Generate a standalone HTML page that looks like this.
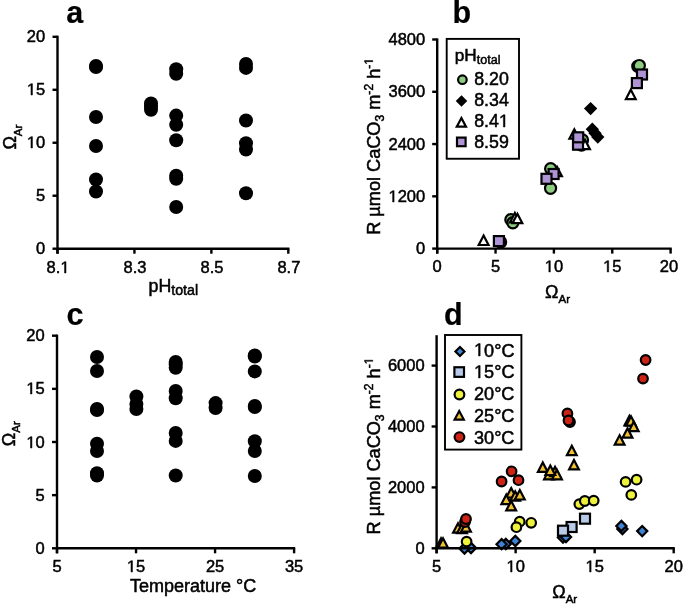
<!DOCTYPE html>
<html><head><meta charset="utf-8"><style>html,body{margin:0;padding:0;background:#fff;}svg{display:block;will-change:transform;}text{font-family:"Liberation Sans",sans-serif;fill:#000;stroke:#000;stroke-width:0.5px;}.one{fill-opacity:0;stroke-opacity:0;}</style></head><body>
<svg width="685" height="605" viewBox="0 0 685 605">
<rect width="685" height="605" fill="#fff"/>
<circle cx="96" cy="66" r="7.0" fill="#000"/>
<circle cx="96" cy="67" r="7.0" fill="#000"/>
<circle cx="96" cy="117" r="7.0" fill="#000"/>
<circle cx="96" cy="146" r="7.0" fill="#000"/>
<circle cx="96" cy="179.5" r="7.0" fill="#000"/>
<circle cx="96" cy="191.5" r="7.0" fill="#000"/>
<circle cx="151" cy="103.5" r="7.0" fill="#000"/>
<circle cx="151" cy="106.5" r="7.0" fill="#000"/>
<circle cx="151" cy="109.7" r="7.0" fill="#000"/>
<circle cx="176.2" cy="69.3" r="7.0" fill="#000"/>
<circle cx="176.2" cy="73.8" r="7.0" fill="#000"/>
<circle cx="176.2" cy="115.6" r="7.0" fill="#000"/>
<circle cx="176.2" cy="124.7" r="7.0" fill="#000"/>
<circle cx="176.2" cy="140.3" r="7.0" fill="#000"/>
<circle cx="176.2" cy="175.8" r="7.0" fill="#000"/>
<circle cx="176.2" cy="178.7" r="7.0" fill="#000"/>
<circle cx="176.2" cy="207" r="7.0" fill="#000"/>
<circle cx="246" cy="63.9" r="7.0" fill="#000"/>
<circle cx="246" cy="67.9" r="7.0" fill="#000"/>
<circle cx="246" cy="120.5" r="7.0" fill="#000"/>
<circle cx="246" cy="143.2" r="7.0" fill="#000"/>
<circle cx="246" cy="149.5" r="7.0" fill="#000"/>
<circle cx="246" cy="193.2" r="7.0" fill="#000"/>
<line x1="57.5" y1="35.699999999999996" x2="57.5" y2="253.7" stroke="#000" stroke-width="2.4"/>
<line x1="57.5" y1="248.7" x2="289.40000000000003" y2="248.7" stroke="#000" stroke-width="2.4"/>
<line x1="52.5" y1="248.7" x2="57.5" y2="248.7" stroke="#000" stroke-width="2.4"/>
<text x="45.2" y="254.29999999999998" font-size="16.5" text-anchor="end" font-weight="normal" >0</text>
<line x1="52.5" y1="195.725" x2="57.5" y2="195.725" stroke="#000" stroke-width="2.4"/>
<text x="45.2" y="201.325" font-size="16.5" text-anchor="end" font-weight="normal" >5</text>
<line x1="52.5" y1="142.75" x2="57.5" y2="142.75" stroke="#000" stroke-width="2.4"/>
<text x="45.2" y="148.35" font-size="16.5" text-anchor="end" font-weight="normal" ><tspan class="one">1</tspan>0</text>
<line x1="52.5" y1="89.775" x2="57.5" y2="89.775" stroke="#000" stroke-width="2.4"/>
<text x="45.2" y="95.375" font-size="16.5" text-anchor="end" font-weight="normal" ><tspan class="one">1</tspan>5</text>
<line x1="52.5" y1="36.79999999999998" x2="57.5" y2="36.79999999999998" stroke="#000" stroke-width="2.4"/>
<text x="45.2" y="42.399999999999984" font-size="16.5" text-anchor="end" font-weight="normal" >20</text>
<line x1="57.5" y1="248.7" x2="57.5" y2="253.7" stroke="#000" stroke-width="2.4"/>
<text x="58.1" y="272.8" font-size="16.5" text-anchor="middle" font-weight="normal" >8.<tspan class="one">1</tspan></text>
<line x1="134.43333333333374" y1="248.7" x2="134.43333333333374" y2="253.7" stroke="#000" stroke-width="2.4"/>
<text x="135.03333333333373" y="272.8" font-size="16.5" text-anchor="middle" font-weight="normal" >8.3</text>
<line x1="211.36666666666682" y1="248.7" x2="211.36666666666682" y2="253.7" stroke="#000" stroke-width="2.4"/>
<text x="211.9666666666668" y="272.8" font-size="16.5" text-anchor="middle" font-weight="normal" >8.5</text>
<line x1="288.29999999999984" y1="248.7" x2="288.29999999999984" y2="253.7" stroke="#000" stroke-width="2.4"/>
<text x="288.89999999999986" y="272.8" font-size="16.5" text-anchor="middle" font-weight="normal" >8.7</text>
<text x="66.2" y="22.5" font-size="30.5" text-anchor="start" font-weight="bold" style="stroke-width:0.2px">a</text>
<text x="148.5" y="292.0" font-size="17.8" text-anchor="start" font-weight="normal" >pH<tspan font-size="14.2" dy="3.4">total</tspan></text>
<text transform="translate(16.4,149.6) rotate(-90)" font-size="18">Ω<tspan font-size="11.5" dy="5.5">Ar</tspan></text>
<circle cx="500.6" cy="242" r="5.55" fill="#8dcd80" stroke="#000" stroke-width="2.2"/>
<circle cx="510.85" cy="219.65" r="5.55" fill="#8dcd80" stroke="#000" stroke-width="2.2"/>
<circle cx="512.85" cy="222.75" r="5.55" fill="#8dcd80" stroke="#000" stroke-width="2.2"/>
<circle cx="550.65" cy="168.75" r="5.55" fill="#8dcd80" stroke="#000" stroke-width="2.2"/>
<circle cx="550.55" cy="188.25" r="5.55" fill="#8dcd80" stroke="#000" stroke-width="2.2"/>
<circle cx="581.5" cy="145" r="5.55" fill="#8dcd80" stroke="#000" stroke-width="2.2"/>
<circle cx="582.5" cy="140" r="5.55" fill="#8dcd80" stroke="#000" stroke-width="2.2"/>
<circle cx="637.8" cy="66.3" r="5.55" fill="#8dcd80" stroke="#000" stroke-width="2.2"/>
<circle cx="639.35" cy="65.55" r="5.55" fill="#8dcd80" stroke="#000" stroke-width="2.2"/>
<path d="M590.6 103.5L595.7 108.6L590.6 113.69999999999999L585.5 108.6Z" fill="#000" stroke="#000" stroke-width="2.2" stroke-linejoin="miter"/>
<path d="M592.3 124.1L597.4 129.2L592.3 134.29999999999998L587.1999999999999 129.2Z" fill="#000" stroke="#000" stroke-width="2.2" stroke-linejoin="miter"/>
<path d="M595 128.1L600.1 133.2L595 138.29999999999998L589.9 133.2Z" fill="#000" stroke="#000" stroke-width="2.2" stroke-linejoin="miter"/>
<path d="M597.8 132.0L602.9 137.1L597.8 142.2L592.6999999999999 137.1Z" fill="#000" stroke="#000" stroke-width="2.2" stroke-linejoin="miter"/>
<path d="M483.6 235.60000000000002L488.5 245.0L478.70000000000005 245.0Z" fill="#fff" stroke="#000" stroke-width="2.2" stroke-linejoin="miter"/>
<path d="M514.9 213.0L519.8 222.39999999999998L510.0 222.39999999999998Z" fill="#fff" stroke="#000" stroke-width="2.2" stroke-linejoin="miter"/>
<path d="M517.4 213.8L522.3 223.2L512.5 223.2Z" fill="#fff" stroke="#000" stroke-width="2.2" stroke-linejoin="miter"/>
<path d="M557 166.8L561.9 176.2L552.1 176.2Z" fill="#fff" stroke="#000" stroke-width="2.2" stroke-linejoin="miter"/>
<path d="M574.3 129.3L579.1999999999999 138.7L569.4 138.7Z" fill="#fff" stroke="#000" stroke-width="2.2" stroke-linejoin="miter"/>
<path d="M585 139.8L589.9 149.2L580.1 149.2Z" fill="#fff" stroke="#000" stroke-width="2.2" stroke-linejoin="miter"/>
<path d="M630.8 89.7L635.6999999999999 99.10000000000001L625.9 99.10000000000001Z" fill="#fff" stroke="#000" stroke-width="2.2" stroke-linejoin="miter"/>
<rect x="493.9" y="236.1" width="10.0" height="10.0" fill="#ae94d4" stroke="#000" stroke-width="2.2"/>
<rect x="548.6" y="169.0" width="10.0" height="10.0" fill="#ae94d4" stroke="#000" stroke-width="2.2"/>
<rect x="541.5" y="173.8" width="10.0" height="10.0" fill="#ae94d4" stroke="#000" stroke-width="2.2"/>
<rect x="573.0" y="139.7" width="10.0" height="10.0" fill="#ae94d4" stroke="#000" stroke-width="2.2"/>
<rect x="573.2" y="132.3" width="10.0" height="10.0" fill="#ae94d4" stroke="#000" stroke-width="2.2"/>
<rect x="637.0" y="69.5" width="10.0" height="10.0" fill="#ae94d4" stroke="#000" stroke-width="2.2"/>
<rect x="631.9" y="78.1" width="10.0" height="10.0" fill="#ae94d4" stroke="#000" stroke-width="2.2"/>
<line x1="437.2" y1="38.4" x2="437.2" y2="253.6" stroke="#000" stroke-width="2.4"/>
<line x1="437.2" y1="248.6" x2="671.7" y2="248.6" stroke="#000" stroke-width="2.4"/>
<line x1="432.2" y1="248.6" x2="437.2" y2="248.6" stroke="#000" stroke-width="2.4"/>
<text x="425.2" y="254.2" font-size="16.5" text-anchor="end" font-weight="normal" >0</text>
<line x1="432.2" y1="196.325" x2="437.2" y2="196.325" stroke="#000" stroke-width="2.4"/>
<text x="425.2" y="201.92499999999998" font-size="16.5" text-anchor="end" font-weight="normal" ><tspan class="one">1</tspan>200</text>
<line x1="432.2" y1="144.05" x2="437.2" y2="144.05" stroke="#000" stroke-width="2.4"/>
<text x="425.2" y="149.65" font-size="16.5" text-anchor="end" font-weight="normal" >2400</text>
<line x1="432.2" y1="91.775" x2="437.2" y2="91.775" stroke="#000" stroke-width="2.4"/>
<text x="425.2" y="97.375" font-size="16.5" text-anchor="end" font-weight="normal" >3600</text>
<line x1="432.2" y1="39.5" x2="437.2" y2="39.5" stroke="#000" stroke-width="2.4"/>
<text x="425.2" y="45.1" font-size="16.5" text-anchor="end" font-weight="normal" >4800</text>
<line x1="437.2" y1="248.6" x2="437.2" y2="253.6" stroke="#000" stroke-width="2.4"/>
<text x="437.2" y="271.9" font-size="16.5" text-anchor="middle" font-weight="normal" >0</text>
<line x1="495.55" y1="248.6" x2="495.55" y2="253.6" stroke="#000" stroke-width="2.4"/>
<text x="495.55" y="271.9" font-size="16.5" text-anchor="middle" font-weight="normal" >5</text>
<line x1="553.9" y1="248.6" x2="553.9" y2="253.6" stroke="#000" stroke-width="2.4"/>
<text x="553.9" y="271.9" font-size="16.5" text-anchor="middle" font-weight="normal" ><tspan class="one">1</tspan>0</text>
<line x1="612.25" y1="248.6" x2="612.25" y2="253.6" stroke="#000" stroke-width="2.4"/>
<text x="612.25" y="271.9" font-size="16.5" text-anchor="middle" font-weight="normal" ><tspan class="one">1</tspan>5</text>
<line x1="670.6" y1="248.6" x2="670.6" y2="253.6" stroke="#000" stroke-width="2.4"/>
<text x="669.0" y="271.9" font-size="16.5" text-anchor="middle" font-weight="normal" >20</text>
<text x="452.5" y="22.5" font-size="30.5" text-anchor="start" font-weight="bold" style="stroke-width:0.2px">b</text>
<text x="545" y="297.8" font-size="18">Ω<tspan font-size="11.5" dy="5.5">Ar</tspan></text>
<text transform="translate(380.3,234.8) rotate(-90)" font-size="18.15">R µmol CaCO<tspan font-size="12.1" dy="4">3</tspan><tspan dy="-4"> m</tspan><tspan font-size="12.1" dy="-7.5">-2</tspan><tspan dy="7.5"> h</tspan><tspan font-size="12.1" dy="-7.5">-<tspan class="one">1</tspan></tspan></text>
<rect x="446.7" y="38.9" width="72.3" height="119.85" fill="#fff" stroke="#000" stroke-width="1.9"/>
<text x="454.8" y="61.0" font-size="17.2" text-anchor="start" font-weight="normal" >pH<tspan font-size="12.5" dy="2.6">total</tspan></text>
<circle cx="462.4" cy="79.7" r="4.3" fill="#8dcd80" stroke="#000" stroke-width="2.2"/>
<path d="M461.5 96.89999999999999L465.7 101.1L461.5 105.3L457.3 101.1Z" fill="#000" stroke="#000" stroke-width="2.2" stroke-linejoin="miter"/>
<path d="M461.4 118.10000000000001L466.0 126.7L456.79999999999995 126.7Z" fill="#fff" stroke="#000" stroke-width="2.2" stroke-linejoin="miter"/>
<rect x="457.0" y="137.6" width="8.6" height="8.6" fill="#ae94d4" stroke="#000" stroke-width="2.2"/>
<text x="474.2" y="85.1" font-size="17.8" text-anchor="start" font-weight="normal" >8.20</text>
<text x="474.2" y="106.05" font-size="17.8" text-anchor="start" font-weight="normal" >8.34</text>
<text x="474.2" y="127.0" font-size="17.8" text-anchor="start" font-weight="normal" >8.4<tspan class="one">1</tspan></text>
<text x="474.2" y="147.95" font-size="17.8" text-anchor="start" font-weight="normal" >8.59</text>
<circle cx="97" cy="357" r="7.0" fill="#000"/>
<circle cx="97" cy="371" r="7.0" fill="#000"/>
<circle cx="97" cy="409" r="7.0" fill="#000"/>
<circle cx="97" cy="410" r="7.0" fill="#000"/>
<circle cx="97" cy="443.8" r="7.0" fill="#000"/>
<circle cx="97" cy="451" r="7.0" fill="#000"/>
<circle cx="97" cy="473.3" r="7.0" fill="#000"/>
<circle cx="97" cy="475.5" r="7.0" fill="#000"/>
<circle cx="136.4" cy="396.5" r="7.0" fill="#000"/>
<circle cx="136.4" cy="404" r="7.0" fill="#000"/>
<circle cx="136.4" cy="409" r="7.0" fill="#000"/>
<circle cx="175.7" cy="361.9" r="7.0" fill="#000"/>
<circle cx="175.7" cy="364.5" r="7.0" fill="#000"/>
<circle cx="175.7" cy="367.8" r="7.0" fill="#000"/>
<circle cx="175.7" cy="391" r="7.0" fill="#000"/>
<circle cx="175.7" cy="398.2" r="7.0" fill="#000"/>
<circle cx="175.7" cy="432.9" r="7.0" fill="#000"/>
<circle cx="175.7" cy="440.9" r="7.0" fill="#000"/>
<circle cx="175.7" cy="475.5" r="7.0" fill="#000"/>
<circle cx="215.6" cy="403.1" r="7.0" fill="#000"/>
<circle cx="215.6" cy="408.1" r="7.0" fill="#000"/>
<circle cx="254.8" cy="355.5" r="7.0" fill="#000"/>
<circle cx="254.8" cy="356.5" r="7.0" fill="#000"/>
<circle cx="254.8" cy="371.4" r="7.0" fill="#000"/>
<circle cx="254.8" cy="406" r="7.0" fill="#000"/>
<circle cx="254.8" cy="407" r="7.0" fill="#000"/>
<circle cx="254.8" cy="441.2" r="7.0" fill="#000"/>
<circle cx="254.8" cy="451" r="7.0" fill="#000"/>
<circle cx="254.8" cy="476" r="7.0" fill="#000"/>
<line x1="57.0" y1="334.59999999999997" x2="57.0" y2="553.3" stroke="#000" stroke-width="2.4"/>
<line x1="57.0" y1="548.3" x2="295.20000000000005" y2="548.3" stroke="#000" stroke-width="2.4"/>
<line x1="52.0" y1="548.3" x2="57.0" y2="548.3" stroke="#000" stroke-width="2.4"/>
<text x="44.7" y="553.9" font-size="16.5" text-anchor="end" font-weight="normal" >0</text>
<line x1="52.0" y1="495.15" x2="57.0" y2="495.15" stroke="#000" stroke-width="2.4"/>
<text x="44.7" y="500.75" font-size="16.5" text-anchor="end" font-weight="normal" >5</text>
<line x1="52.0" y1="442.0" x2="57.0" y2="442.0" stroke="#000" stroke-width="2.4"/>
<text x="44.7" y="447.6" font-size="16.5" text-anchor="end" font-weight="normal" ><tspan class="one">1</tspan>0</text>
<line x1="52.0" y1="388.84999999999997" x2="57.0" y2="388.84999999999997" stroke="#000" stroke-width="2.4"/>
<text x="44.7" y="394.45" font-size="16.5" text-anchor="end" font-weight="normal" ><tspan class="one">1</tspan>5</text>
<line x1="52.0" y1="335.7" x2="57.0" y2="335.7" stroke="#000" stroke-width="2.4"/>
<text x="44.7" y="341.3" font-size="16.5" text-anchor="end" font-weight="normal" >20</text>
<line x1="57.0" y1="548.3" x2="57.0" y2="553.3" stroke="#000" stroke-width="2.4"/>
<text x="57.0" y="572" font-size="16.5" text-anchor="middle" font-weight="normal" >5</text>
<line x1="136.03333333333336" y1="548.3" x2="136.03333333333336" y2="553.3" stroke="#000" stroke-width="2.4"/>
<text x="136.03333333333336" y="572" font-size="16.5" text-anchor="middle" font-weight="normal" ><tspan class="one">1</tspan>5</text>
<line x1="215.0666666666667" y1="548.3" x2="215.0666666666667" y2="553.3" stroke="#000" stroke-width="2.4"/>
<text x="215.0666666666667" y="572" font-size="16.5" text-anchor="middle" font-weight="normal" >25</text>
<line x1="294.1" y1="548.3" x2="294.1" y2="553.3" stroke="#000" stroke-width="2.4"/>
<text x="294.1" y="572" font-size="16.5" text-anchor="middle" font-weight="normal" >35</text>
<text x="66.6" y="324.5" font-size="30.5" text-anchor="start" font-weight="bold" style="stroke-width:0.2px">c</text>
<text x="256.2" y="591.8" font-size="18.0" text-anchor="end" font-weight="normal" >Temperature °C</text>
<text transform="translate(14.9,446.2) rotate(-90)" font-size="18">Ω<tspan font-size="11.5" dy="5.5">Ar</tspan></text>
<path d="M505.8 538.9L510.90000000000003 544L505.8 549.1L500.7 544Z" fill="#3d84d6" stroke="#000" stroke-width="2.2" stroke-linejoin="miter"/>
<path d="M501.6 539.1L506.70000000000005 544.2L501.6 549.3000000000001L496.5 544.2Z" fill="#3d84d6" stroke="#000" stroke-width="2.2" stroke-linejoin="miter"/>
<path d="M515.3 535.9L520.4 541L515.3 546.1L510.19999999999993 541Z" fill="#3d84d6" stroke="#000" stroke-width="2.2" stroke-linejoin="miter"/>
<path d="M563 532.4L568.1 537.5L563 542.6L557.9 537.5Z" fill="#3d84d6" stroke="#000" stroke-width="2.2" stroke-linejoin="miter"/>
<path d="M566 531.9L571.1 537L566 542.1L560.9 537Z" fill="#3d84d6" stroke="#000" stroke-width="2.2" stroke-linejoin="miter"/>
<path d="M622.4 523.9L627.5 529L622.4 534.1L617.3 529Z" fill="#3d84d6" stroke="#000" stroke-width="2.2" stroke-linejoin="miter"/>
<path d="M621.4 520.9L626.5 526L621.4 531.1L616.3 526Z" fill="#3d84d6" stroke="#000" stroke-width="2.2" stroke-linejoin="miter"/>
<path d="M642.2 526.0L647.3000000000001 531.1L642.2 536.2L637.1 531.1Z" fill="#3d84d6" stroke="#000" stroke-width="2.2" stroke-linejoin="miter"/>
<path d="M471 542.9L476.1 548L471 553.1L465.9 548Z" fill="#3d84d6" stroke="#000" stroke-width="2.2" stroke-linejoin="miter"/>
<path d="M464.5 543.4L469.6 548.5L464.5 553.6L459.4 548.5Z" fill="#3d84d6" stroke="#000" stroke-width="2.2" stroke-linejoin="miter"/>
<rect x="580.0" y="513.7" width="10.0" height="10.0" fill="#b7cbe9" stroke="#000" stroke-width="2.2"/>
<rect x="566.6" y="522.0" width="10.0" height="10.0" fill="#b7cbe9" stroke="#000" stroke-width="2.2"/>
<rect x="558.0" y="525.7" width="10.0" height="10.0" fill="#b7cbe9" stroke="#000" stroke-width="2.2"/>
<circle cx="466.6" cy="541.6" r="4.8" fill="#eef23a" stroke="#000" stroke-width="2.2"/>
<circle cx="519.7" cy="521.7" r="4.8" fill="#eef23a" stroke="#000" stroke-width="2.2"/>
<circle cx="516.4" cy="527.2" r="4.8" fill="#eef23a" stroke="#000" stroke-width="2.2"/>
<circle cx="531.2" cy="522.8" r="4.8" fill="#eef23a" stroke="#000" stroke-width="2.2"/>
<circle cx="579.3" cy="504.1" r="4.8" fill="#eef23a" stroke="#000" stroke-width="2.2"/>
<circle cx="584.8" cy="501" r="4.8" fill="#eef23a" stroke="#000" stroke-width="2.2"/>
<circle cx="593.7" cy="500.6" r="4.8" fill="#eef23a" stroke="#000" stroke-width="2.2"/>
<circle cx="625.6" cy="481.9" r="4.8" fill="#eef23a" stroke="#000" stroke-width="2.2"/>
<circle cx="636.6" cy="479.7" r="4.8" fill="#eef23a" stroke="#000" stroke-width="2.2"/>
<circle cx="631.3" cy="494.9" r="4.8" fill="#eef23a" stroke="#000" stroke-width="2.2"/>
<path d="M441 538.3L445.9 547.7L436.1 547.7Z" fill="#f0c232" stroke="#000" stroke-width="2.2" stroke-linejoin="miter"/>
<path d="M443 538.3L447.9 547.7L438.1 547.7Z" fill="#f0c232" stroke="#000" stroke-width="2.2" stroke-linejoin="miter"/>
<path d="M458 523.3L462.9 532.7L453.1 532.7Z" fill="#f0c232" stroke="#000" stroke-width="2.2" stroke-linejoin="miter"/>
<path d="M462 523.8L466.9 533.2L457.1 533.2Z" fill="#f0c232" stroke="#000" stroke-width="2.2" stroke-linejoin="miter"/>
<path d="M466 522.3L470.9 531.7L461.1 531.7Z" fill="#f0c232" stroke="#000" stroke-width="2.2" stroke-linejoin="miter"/>
<path d="M511.2 488.1L516.1 497.5L506.3 497.5Z" fill="#f0c232" stroke="#000" stroke-width="2.2" stroke-linejoin="miter"/>
<path d="M515.2 491.3L520.1 500.7L510.30000000000007 500.7Z" fill="#f0c232" stroke="#000" stroke-width="2.2" stroke-linejoin="miter"/>
<path d="M519.8 490.1L524.6999999999999 499.5L514.9 499.5Z" fill="#f0c232" stroke="#000" stroke-width="2.2" stroke-linejoin="miter"/>
<path d="M506.3 494.7L511.2 504.09999999999997L501.40000000000003 504.09999999999997Z" fill="#f0c232" stroke="#000" stroke-width="2.2" stroke-linejoin="miter"/>
<path d="M511.2 500.90000000000003L516.1 510.3L506.3 510.3Z" fill="#f0c232" stroke="#000" stroke-width="2.2" stroke-linejoin="miter"/>
<path d="M549 469.90000000000003L553.9 479.3L544.1 479.3Z" fill="#f0c232" stroke="#000" stroke-width="2.2" stroke-linejoin="miter"/>
<path d="M555 466.8L559.9 476.2L550.1 476.2Z" fill="#f0c232" stroke="#000" stroke-width="2.2" stroke-linejoin="miter"/>
<path d="M557 469.90000000000003L561.9 479.3L552.1 479.3Z" fill="#f0c232" stroke="#000" stroke-width="2.2" stroke-linejoin="miter"/>
<path d="M542.8 462.5L547.6999999999999 471.9L537.9 471.9Z" fill="#f0c232" stroke="#000" stroke-width="2.2" stroke-linejoin="miter"/>
<path d="M550.3 465.6L555.1999999999999 475.0L545.4 475.0Z" fill="#f0c232" stroke="#000" stroke-width="2.2" stroke-linejoin="miter"/>
<path d="M571.8 445.8L576.6999999999999 455.2L566.9 455.2Z" fill="#f0c232" stroke="#000" stroke-width="2.2" stroke-linejoin="miter"/>
<path d="M574 460.0L578.9 469.4L569.1 469.4Z" fill="#f0c232" stroke="#000" stroke-width="2.2" stroke-linejoin="miter"/>
<path d="M629.4 415.90000000000003L634.3 425.3L624.5 425.3Z" fill="#f0c232" stroke="#000" stroke-width="2.2" stroke-linejoin="miter"/>
<path d="M631 416.3L635.9 425.7L626.1 425.7Z" fill="#f0c232" stroke="#000" stroke-width="2.2" stroke-linejoin="miter"/>
<path d="M633.7 421.8L638.6 431.2L628.8000000000001 431.2Z" fill="#f0c232" stroke="#000" stroke-width="2.2" stroke-linejoin="miter"/>
<path d="M627.5 428.3L632.4 437.7L622.6 437.7Z" fill="#f0c232" stroke="#000" stroke-width="2.2" stroke-linejoin="miter"/>
<path d="M619.6 435.3L624.5 444.7L614.7 444.7Z" fill="#f0c232" stroke="#000" stroke-width="2.2" stroke-linejoin="miter"/>
<circle cx="465" cy="522" r="4.8" fill="#cd2214" stroke="#000" stroke-width="2.2"/>
<circle cx="466" cy="519" r="4.8" fill="#cd2214" stroke="#000" stroke-width="2.2"/>
<circle cx="511.6" cy="471.3" r="4.8" fill="#cd2214" stroke="#000" stroke-width="2.2"/>
<circle cx="501.6" cy="481.5" r="4.8" fill="#cd2214" stroke="#000" stroke-width="2.2"/>
<circle cx="518.5" cy="480.2" r="4.8" fill="#cd2214" stroke="#000" stroke-width="2.2"/>
<circle cx="567.4" cy="413.4" r="4.8" fill="#cd2214" stroke="#000" stroke-width="2.2"/>
<circle cx="570" cy="422" r="4.8" fill="#cd2214" stroke="#000" stroke-width="2.2"/>
<circle cx="568.5" cy="420.5" r="4.8" fill="#cd2214" stroke="#000" stroke-width="2.2"/>
<circle cx="645.6" cy="360" r="4.8" fill="#cd2214" stroke="#000" stroke-width="2.2"/>
<circle cx="643" cy="378.6" r="4.8" fill="#cd2214" stroke="#000" stroke-width="2.2"/>
<line x1="436.6" y1="335.2" x2="436.6" y2="553.3" stroke="#000" stroke-width="2.4"/>
<line x1="436.6" y1="548.3" x2="674.8000000000001" y2="548.3" stroke="#000" stroke-width="2.4"/>
<line x1="431.6" y1="548.3" x2="436.6" y2="548.3" stroke="#000" stroke-width="2.4"/>
<text x="424.6" y="553.9" font-size="16.5" text-anchor="end" font-weight="normal" >0</text>
<line x1="431.6" y1="487.4" x2="436.6" y2="487.4" stroke="#000" stroke-width="2.4"/>
<text x="424.6" y="493.0" font-size="16.5" text-anchor="end" font-weight="normal" >2000</text>
<line x1="431.6" y1="426.5" x2="436.6" y2="426.5" stroke="#000" stroke-width="2.4"/>
<text x="424.6" y="432.1" font-size="16.5" text-anchor="end" font-weight="normal" >4000</text>
<line x1="431.6" y1="365.6" x2="436.6" y2="365.6" stroke="#000" stroke-width="2.4"/>
<text x="424.6" y="371.20000000000005" font-size="16.5" text-anchor="end" font-weight="normal" >6000</text>
<line x1="436.6" y1="548.3" x2="436.6" y2="553.3" stroke="#000" stroke-width="2.4"/>
<text x="436.6" y="571.6" font-size="16.5" text-anchor="middle" font-weight="normal" >5</text>
<line x1="515.6333333333333" y1="548.3" x2="515.6333333333333" y2="553.3" stroke="#000" stroke-width="2.4"/>
<text x="515.6333333333333" y="571.6" font-size="16.5" text-anchor="middle" font-weight="normal" ><tspan class="one">1</tspan>0</text>
<line x1="594.6666666666667" y1="548.3" x2="594.6666666666667" y2="553.3" stroke="#000" stroke-width="2.4"/>
<text x="594.6666666666667" y="571.6" font-size="16.5" text-anchor="middle" font-weight="normal" ><tspan class="one">1</tspan>5</text>
<line x1="673.7" y1="548.3" x2="673.7" y2="553.3" stroke="#000" stroke-width="2.4"/>
<text x="673.7" y="571.6" font-size="16.5" text-anchor="middle" font-weight="normal" >20</text>
<text x="444" y="324.5" font-size="30.5" text-anchor="start" font-weight="bold" style="stroke-width:0.2px">d</text>
<text x="552.2" y="597.6" font-size="18">Ω<tspan font-size="11.5" dy="5.5">Ar</tspan></text>
<text transform="translate(380.3,534.4) rotate(-90)" font-size="18.15">R µmol CaCO<tspan font-size="12.1" dy="4">3</tspan><tspan dy="-4"> m</tspan><tspan font-size="12.1" dy="-7.5">-2</tspan><tspan dy="7.5"> h</tspan><tspan font-size="12.1" dy="-7.5">-<tspan class="one">1</tspan></tspan></text>
<rect x="445" y="335" width="76.4" height="114.6" fill="#fff" stroke="#000" stroke-width="1.9"/>
<path d="M459.95 347.05L464.45 351.55L459.95 356.05L455.45 351.55Z" fill="#3d84d6" stroke="#000" stroke-width="2.2" stroke-linejoin="miter"/>
<rect x="454.4" y="367.25" width="9.6" height="9.6" fill="#b7cbe9" stroke="#000" stroke-width="2.2"/>
<circle cx="459.45" cy="394.5" r="4.85" fill="#eef23a" stroke="#000" stroke-width="2.2"/>
<path d="M459.2 411.0L463.8 419.6L454.59999999999997 419.6Z" fill="#f0c232" stroke="#000" stroke-width="2.2" stroke-linejoin="miter"/>
<circle cx="459.45" cy="437.1" r="4.85" fill="#cd2214" stroke="#000" stroke-width="2.2"/>
<text x="474.0" y="356.5" font-size="18.1" text-anchor="start" font-weight="normal" ><tspan class="one">1</tspan>0°C</text>
<text x="474.0" y="378.25" font-size="18.1" text-anchor="start" font-weight="normal" ><tspan class="one">1</tspan>5°C</text>
<text x="474.0" y="400.0" font-size="18.1" text-anchor="start" font-weight="normal" >20°C</text>
<text x="474.0" y="421.75" font-size="18.1" text-anchor="start" font-weight="normal" >25°C</text>
<text x="474.0" y="443.5" font-size="18.1" text-anchor="start" font-weight="normal" >30°C</text>
<path transform="translate(26.83,148.00) scale(0.008057,-0.008057)" d="M515 0L515 1237L197 1010L197 1180L530 1409L696 1409L696 0Z" fill="#000" stroke="#000" stroke-width="0.5" vector-effect="non-scaling-stroke"/>
<path transform="translate(26.83,95.00) scale(0.008057,-0.008057)" d="M515 0L515 1237L197 1010L197 1180L530 1409L696 1409L696 0Z" fill="#000" stroke="#000" stroke-width="0.5" vector-effect="non-scaling-stroke"/>
<path transform="translate(60.39,273.00) scale(0.008057,-0.008057)" d="M515 0L515 1237L197 1010L197 1180L530 1409L696 1409L696 0Z" fill="#000" stroke="#000" stroke-width="0.5" vector-effect="non-scaling-stroke"/>
<path transform="translate(388.48,202.00) scale(0.008057,-0.008057)" d="M515 0L515 1237L197 1010L197 1180L530 1409L696 1409L696 0Z" fill="#000" stroke="#000" stroke-width="0.5" vector-effect="non-scaling-stroke"/>
<path transform="translate(544.71,272.00) scale(0.008057,-0.008057)" d="M515 0L515 1237L197 1010L197 1180L530 1409L696 1409L696 0Z" fill="#000" stroke="#000" stroke-width="0.5" vector-effect="non-scaling-stroke"/>
<path transform="translate(603.06,272.00) scale(0.008057,-0.008057)" d="M515 0L515 1237L197 1010L197 1180L530 1409L696 1409L696 0Z" fill="#000" stroke="#000" stroke-width="0.5" vector-effect="non-scaling-stroke"/>
<path transform="translate(380.3,234.8) rotate(-90) translate(170.09,-7.50) scale(0.005908,-0.005908)" d="M515 0L515 1237L197 1010L197 1180L530 1409L696 1409L696 0Z" fill="#000" stroke="#000" stroke-width="0.5" vector-effect="non-scaling-stroke"/>
<path transform="translate(498.92,127.00) scale(0.008691,-0.008691)" d="M515 0L515 1237L197 1010L197 1180L530 1409L696 1409L696 0Z" fill="#000" stroke="#000" stroke-width="0.5" vector-effect="non-scaling-stroke"/>
<path transform="translate(26.33,448.00) scale(0.008057,-0.008057)" d="M515 0L515 1237L197 1010L197 1180L530 1409L696 1409L696 0Z" fill="#000" stroke="#000" stroke-width="0.5" vector-effect="non-scaling-stroke"/>
<path transform="translate(26.33,394.00) scale(0.008057,-0.008057)" d="M515 0L515 1237L197 1010L197 1180L530 1409L696 1409L696 0Z" fill="#000" stroke="#000" stroke-width="0.5" vector-effect="non-scaling-stroke"/>
<path transform="translate(126.85,572.00) scale(0.008057,-0.008057)" d="M515 0L515 1237L197 1010L197 1180L530 1409L696 1409L696 0Z" fill="#000" stroke="#000" stroke-width="0.5" vector-effect="non-scaling-stroke"/>
<path transform="translate(506.45,572.00) scale(0.008057,-0.008057)" d="M515 0L515 1237L197 1010L197 1180L530 1409L696 1409L696 0Z" fill="#000" stroke="#000" stroke-width="0.5" vector-effect="non-scaling-stroke"/>
<path transform="translate(585.48,572.00) scale(0.008057,-0.008057)" d="M515 0L515 1237L197 1010L197 1180L530 1409L696 1409L696 0Z" fill="#000" stroke="#000" stroke-width="0.5" vector-effect="non-scaling-stroke"/>
<path transform="translate(380.3,534.4) rotate(-90) translate(170.09,-7.50) scale(0.005908,-0.005908)" d="M515 0L515 1237L197 1010L197 1180L530 1409L696 1409L696 0Z" fill="#000" stroke="#000" stroke-width="0.5" vector-effect="non-scaling-stroke"/>
<path transform="translate(474.00,356.00) scale(0.008838,-0.008838)" d="M515 0L515 1237L197 1010L197 1180L530 1409L696 1409L696 0Z" fill="#000" stroke="#000" stroke-width="0.5" vector-effect="non-scaling-stroke"/>
<path transform="translate(474.00,378.00) scale(0.008838,-0.008838)" d="M515 0L515 1237L197 1010L197 1180L530 1409L696 1409L696 0Z" fill="#000" stroke="#000" stroke-width="0.5" vector-effect="non-scaling-stroke"/>
</svg></body></html>
